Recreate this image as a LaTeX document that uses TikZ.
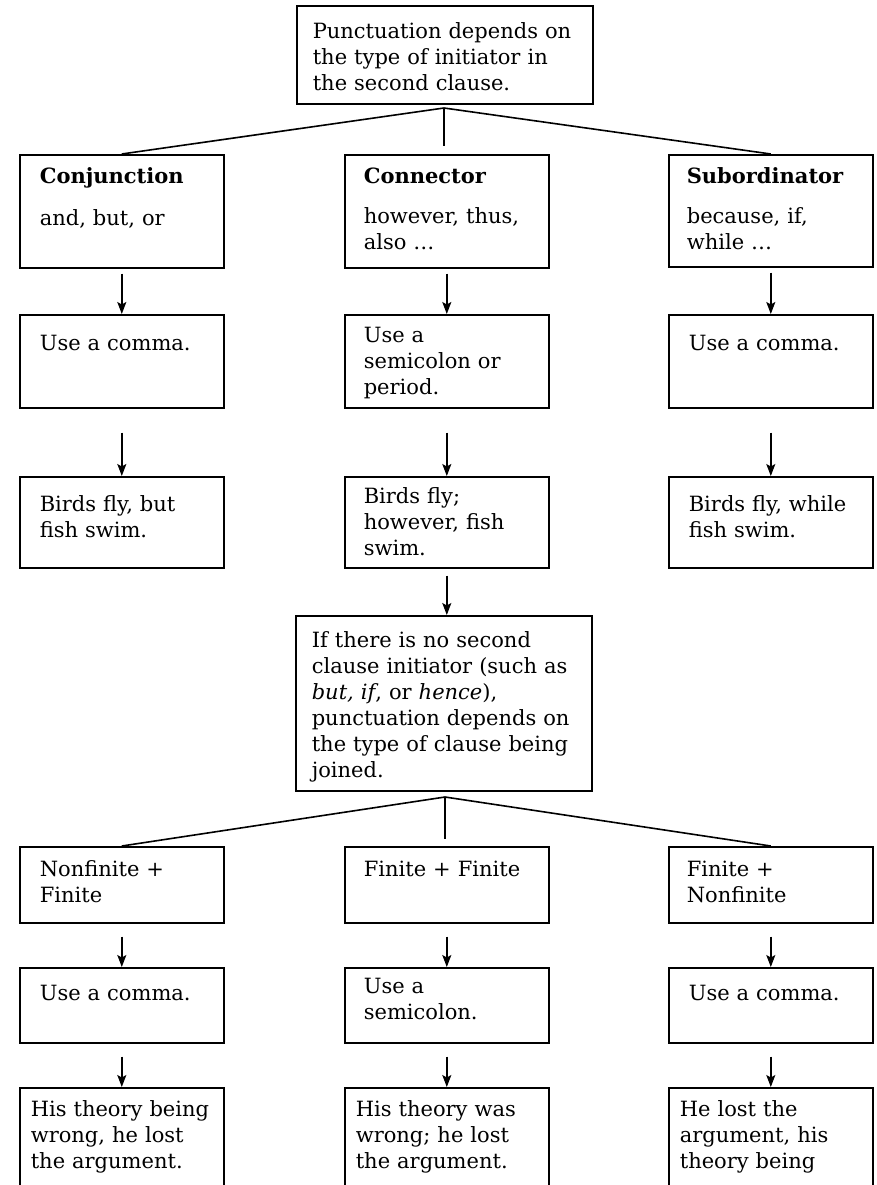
\documentclass[tikz,border=0pt]{standalone}
\usepackage{fontspec}
\setmainfont{DejaVu Serif}
\usepackage{tikz}
\usetikzlibrary{arrows.meta}
\newcommand{\chartfont}{\fontsize{21}{26}\selectfont}
\tikzset{
 box/.style={draw, line width=1.6pt, anchor=north west, align=left, inner ysep=0pt, inner xsep=#1, text width=204pt-2*#1, font=\chartfont},
 box/.default=20pt,
 wide/.style={box=#1, text width=296pt-2*#1},
 fork/.style={line width=1.6pt},
 arr/.style={line width=1.4pt, -{Stealth[length=12pt,width=9pt,inset=2.5pt]}}
}
\begin{document}
\begin{tikzpicture}[x=1pt, y=-1pt]
\useasboundingbox (0,0) rectangle (876,1185);
\clip (0,0) rectangle (876,1185);
\node[wide=16pt, text height=33pt, text depth=65pt] (top) at (296,5) {Punctuation depends on\\the type of initiator in\\the second clause.};
\coordinate (fa) at (444,108);
\node[box, text height=29pt, text depth=84pt] (L1) at (19,154) {\textbf{Conjunction}\\[16pt]and, but, or};
\node[box=19pt, text height=29pt, text depth=84pt] (C1) at (344,154) {\textbf{Connector}\\[14pt]however, thus,\\also \ldots};
\node[box=18pt, text height=29pt, text depth=83pt] (R1) at (668,154) {\textbf{Subordinator}\\[14pt]because, if,\\while \ldots};
\draw[fork] (fa) -- (L1.north) (fa) -- (R1.north);
\draw[fork, shorten >=8pt] (fa) -- (fa |- C1.north);
\node[box, text height=36pt, text depth=57pt] (L2) at (19,314) {Use a comma.};
\node[box=19pt, text height=28pt, text depth=65pt] (C2) at (344,314) {Use a\\semicolon or\\period.};
\node[box, text height=36pt, text depth=57pt] (R2) at (668,314) {Use a comma.};
\node[box, text height=35pt, text depth=56pt] (L3) at (19,476) {Birds fly, but\\fish swim.};
\node[box=19pt, text height=27pt, text depth=64pt] (C3) at (344,476) {Birds fly;\\however, fish\\swim.};
\node[box, text height=35pt, text depth=56pt] (R3) at (668,476) {Birds fly, while\\fish swim.};
\node[wide=16pt, text height=32pt, text depth=143pt] (mid) at (295,615) {If there is no second\\clause initiator (such as\\\textit{but, if}, or \textit{hence}),\\punctuation depends on\\the type of clause being\\joined.};
\coordinate (fb) at (445,797);
\node[box, text height=30pt, text depth=46pt] (L4) at (19,846) {Nonfinite +\\Finite};
\node[box=19pt, text height=30pt, text depth=46pt] (C4) at (344,846) {Finite + Finite};
\node[box=18pt, text height=30pt, text depth=46pt] (R4) at (668,846) {Finite +\\Nonfinite};
\draw[fork] (fb) -- (L4.north) (fb) -- (R4.north);
\draw[fork, shorten >=7pt] (fb) -- (fb |- C4.north);
\node[box, text height=33pt, text depth=42pt] (L5) at (19,967) {Use a comma.};
\node[box=19pt, text height=26pt, text depth=49pt] (C5) at (344,967) {Use a\\semicolon.};
\node[box, text height=33pt, text depth=42pt] (R5) at (668,967) {Use a comma.};
\node[box=11pt, text height=29pt, text depth=100pt] (L6) at (19,1087) {His theory being\\wrong, he lost\\the argument.};
\node[box=11pt, text height=29pt, text depth=100pt] (C6) at (344,1087) {His theory was\\wrong; he lost\\the argument.};
\node[box=11pt, text height=29pt, text depth=100pt] (R6) at (668,1087) {He lost the\\argument, his\\theory being};
\foreach \a/\b/\g in {L1/L2/5, C1/C2/5, R1/R2/5, L2/L3/24, C2/C3/24, R2/R3/24, L4/L5/13, C4/C5/13, R4/R5/13, L5/L6/13, C5/C6/13, R5/R6/13}
 \draw[arr, shorten <=\g pt] (\a.south) -- (\b.north);
\draw[arr, shorten <=7pt] (C3.south) -- (C3.south |- mid.north);
\end{tikzpicture}
\end{document}
